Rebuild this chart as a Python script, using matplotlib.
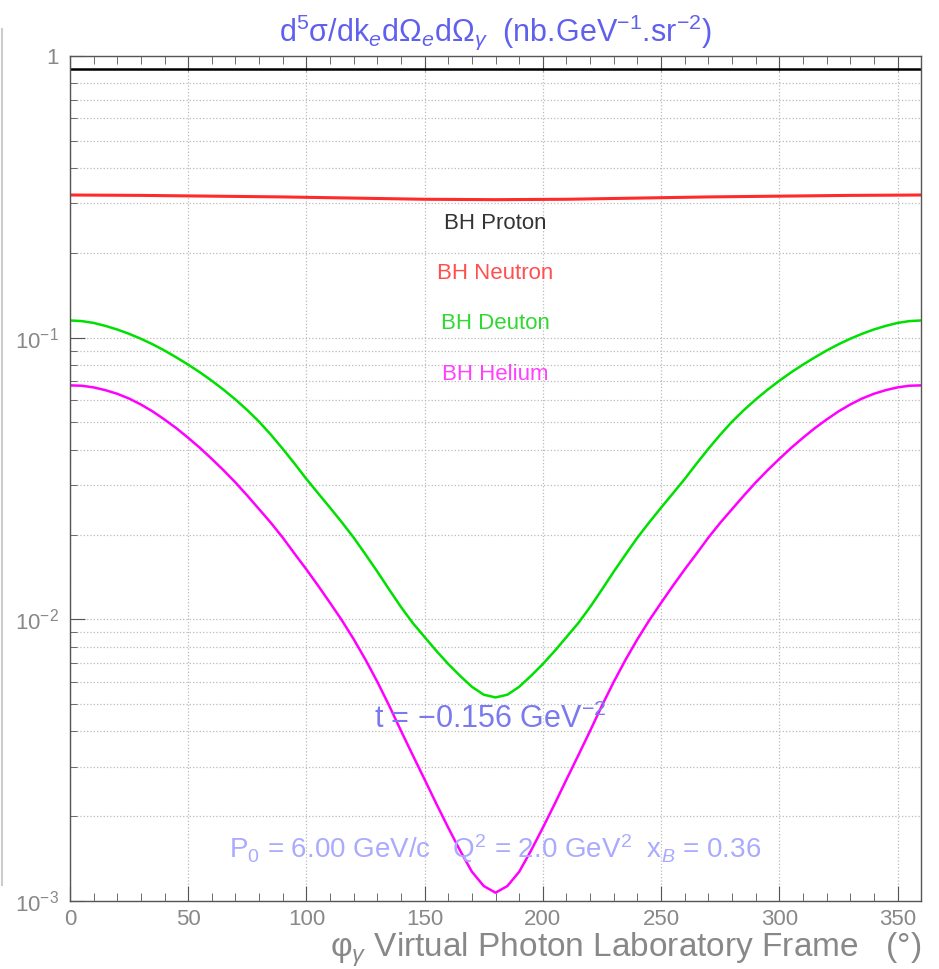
# Secciones eficaces BH vs phi_gamma
import numpy as np
import matplotlib.pyplot as plt
from matplotlib.ticker import FixedLocator, NullFormatter
from matplotlib.lines import Line2D

plt.rcParams['font.family'] = ['Liberation Sans', 'DejaVu Sans']
plt.rcParams['mathtext.fontset'] = 'custom'
plt.rcParams['mathtext.rm'] = 'Liberation Sans'
plt.rcParams['mathtext.it'] = 'Liberation Sans:italic'
plt.rcParams['mathtext.bf'] = 'Liberation Sans:bold'

# Datos (phi en grados)
phi_proton = [0, 360]
proton = [0.90, 0.90]

phi_neutron = np.arange(0, 361, 30)
neutron = [0.321, 0.320, 0.318, 0.316, 0.313, 0.310, 0.309,
           0.310, 0.313, 0.316, 0.318, 0.320, 0.321]

phi = np.arange(0, 361, 5)
deuton = [0.1151, 0.1145, 0.1128, 0.1101, 0.1069, 0.1032, 0.0991, 0.0947, 0.0900, 0.0851,
          0.0802, 0.0753, 0.0703, 0.0653, 0.0603, 0.0553, 0.0503, 0.0452, 0.0403, 0.0357,
          0.0315, 0.0280, 0.0249, 0.0221, 0.0195, 0.0170, 0.01477, 0.01276, 0.01106, 0.00970,
          0.00865, 0.00772, 0.00694, 0.00630, 0.00576, 0.00540, 0.00528,
          0.00540, 0.00576, 0.00630, 0.00694, 0.00772, 0.00865, 0.00970, 0.01106, 0.01276,
          0.01477, 0.0170, 0.0195, 0.0221, 0.0249, 0.0280, 0.0315, 0.0357, 0.0403, 0.0452,
          0.0503, 0.0553, 0.0603, 0.0653, 0.0703, 0.0753, 0.0802, 0.0851, 0.0900, 0.0947,
          0.0991, 0.1032, 0.1069, 0.1101, 0.1128, 0.1145, 0.1151]

helium = [0.0677, 0.0675, 0.0666, 0.0651, 0.0632, 0.0608, 0.0579, 0.0547, 0.0512, 0.0477,
          0.0441, 0.0406, 0.0371, 0.0338, 0.0306, 0.0275, 0.0246, 0.0220, 0.0195, 0.0171,
          0.01504, 0.01315, 0.01144, 0.00992, 0.00850, 0.00719, 0.00600, 0.00494, 0.00402, 0.00329,
          0.00270, 0.00221, 0.00182, 0.00151, 0.00127, 0.00113, 0.00107,
          0.00113, 0.00127, 0.00151, 0.00182, 0.00221, 0.00270, 0.00329, 0.00402, 0.00494,
          0.00600, 0.00719, 0.00850, 0.00992, 0.01144, 0.01315, 0.01504, 0.0171, 0.0195, 0.0220,
          0.0246, 0.0275, 0.0306, 0.0338, 0.0371, 0.0406, 0.0441, 0.0477, 0.0512, 0.0547,
          0.0579, 0.0608, 0.0632, 0.0651, 0.0666, 0.0675, 0.0677]

etiquetas = ['BH Proton', 'BH Neutron', 'BH Deuton', 'BH Helium']
colores_linea = ['#000000', '#ff2a2a', '#00e000', '#ff00ff']
colores_texto = ['#333333', '#ff5050', '#30d830', '#ff40ff']

fig = plt.figure(figsize=(9.39, 9.69), dpi=100)
ax = fig.add_axes([0.0745, 0.0702, 0.9065, 0.8720])

ax.plot(phi_proton, proton, color=colores_linea[0], lw=1.8)
ax.plot(phi_neutron, neutron, color=colores_linea[1], lw=2.2)
ax.plot(phi, deuton, color=colores_linea[2], lw=1.8)
ax.plot(phi, helium, color=colores_linea[3], lw=1.8)

ax.set_yscale('log')
ax.set_xlim(0, 360)
ax.set_ylim(1e-3, 1)

# ejes y cuadricula
ax.xaxis.set_major_locator(FixedLocator(np.arange(0, 351, 50)))
ax.xaxis.set_minor_locator(FixedLocator(np.arange(0, 361, 10)))
ax.yaxis.set_major_locator(FixedLocator([1e-3, 1e-2, 1e-1, 1]))
ax.set_yticklabels(['$10^{-3}$', '$10^{-2}$', '$10^{-1}$', '1'])
ax.yaxis.set_minor_formatter(NullFormatter())
ax.tick_params(axis='both', which='both', direction='in', colors='#555555',
               labelcolor='#888888', labelsize=16)
ax.tick_params(axis='x', which='major', length=11, top=True, pad=6)
ax.tick_params(axis='x', which='minor', length=6, top=True)
ax.tick_params(axis='y', which='major', length=11, pad=8)
ax.tick_params(axis='y', which='minor', length=5)
ax.grid(True, which='major', axis='x', ls=':', color='#bbbbbb', lw=0.9)
ax.grid(True, which='both', axis='y', ls=':', color='#bbbbbb', lw=0.9)
for s in ax.spines.values():
    s.set_color('#555555')
    s.set_linewidth(1.0)

# leyenda como textos
for i, (t, c) in enumerate(zip(etiquetas, colores_texto)):
    ax.text(0.4994, [0.8014, 0.7423, 0.6832, 0.6229][i], t, color=c, fontsize=16,
            ha='center', va='center', transform=ax.transAxes)

ax.text(0.4935, 0.2151, 't = $-$0.156 GeV$^{-2}$', color='#7a7aee', fontsize=22,
        ha='center', va='center', transform=ax.transAxes)
ax.text(0.4994, 0.0615, 'P$_0$ = 6.00 GeV/c   Q$^2$ = 2.0 GeV$^2$  x$_B$ = 0.36',
        color='#aaaaff', fontsize=20, ha='center', va='center', transform=ax.transAxes)

fig.text(0.527, 0.967, 'd$^5$σ/dk$_e$dΩ$_e$dΩ$_γ$  (nb.GeV$^{-1}$.sr$^{-2}$)',
         color='#6060ee', fontsize=22, ha='center', va='center')
fig.text(0.981, 0.0124, 'φ$_γ$ Virtual Photon Laboratory Frame   (°)',
         color='#888888', fontsize=24, ha='right', va='baseline')

fig.add_artist(Line2D([0.002, 0.002], [0.087, 0.97], color='#cccccc', lw=1.5,
                      transform=fig.transFigure))

fig.savefig('out.png', dpi=100)
